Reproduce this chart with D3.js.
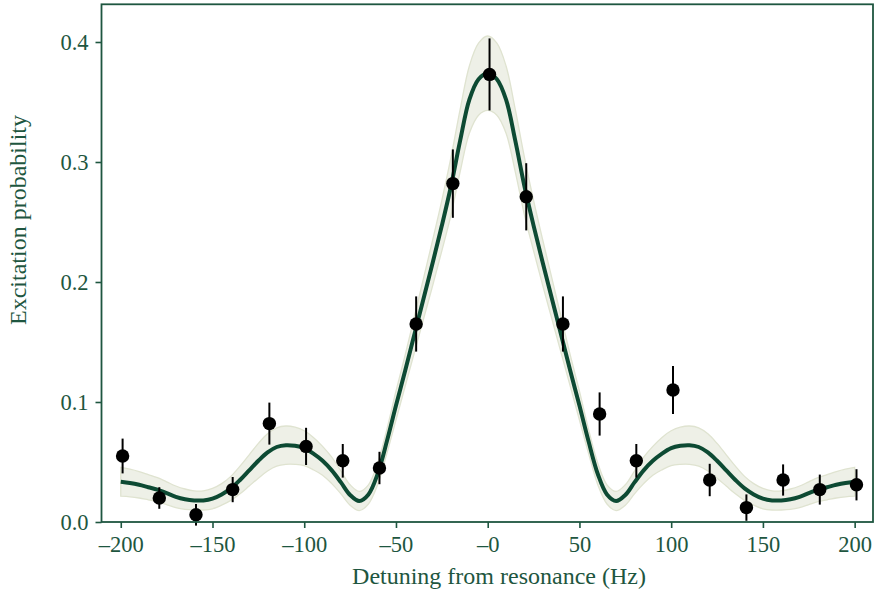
<!DOCTYPE html>
<meta charset="utf-8">
<script src="https://d3js.org/d3.v7.min.js"></script>
<style>
  body { margin: 0; background: #fff; }
  text { font-family: "Liberation Serif", "DejaVu Serif", serif; fill: #1e5640; }
</style>
<div id="my_dataviz"></div>
<script>

// measured points (detuning in Hz, probability, error bar half-length)
var pointDetuning = [-199, -179, -159, -139, -119, -99, -79, -59, -39, -19, 1, 21, 41, 61, 81, 101, 121, 141, 161, 181, 201];
var pointProb = [0.055, 0.020, 0.006, 0.027, 0.082, 0.063, 0.051, 0.045, 0.165, 0.282, 0.373, 0.271, 0.165, 0.090, 0.051, 0.110, 0.035, 0.012, 0.035, 0.027, 0.031];
var pointErr = [0.0145, 0.009, 0.009, 0.0105, 0.0175, 0.0155, 0.014, 0.0135, 0.023, 0.0285, 0.030, 0.028, 0.023, 0.018, 0.014, 0.020, 0.0135, 0.011, 0.013, 0.0125, 0.013];

// fitted curve, every 5 Hz
var fitDetuning = [-200, -195, -190, -185, -180, -175, -170, -165, -160, -155, -150, -145, -140, -135, -130, -125, -120, -115, -110, -105, -100,
  -95, -90, -85, -80, -75, -70, -65, -60, -55, -50, -45, -40, -35, -30, -25, -20, -15, -10, -5, 0,
  5, 10, 15, 20, 25, 30, 35, 40, 45, 50, 55, 60, 65, 70, 75, 80, 85, 90, 95, 100,
  105, 110, 115, 120, 125, 130, 135, 140, 145, 150, 155, 160, 165, 170, 175, 180, 185, 190, 195, 200];
var fitProb = [0.0335, 0.0325, 0.031, 0.029, 0.027, 0.024, 0.021, 0.019, 0.018, 0.018, 0.0195, 0.023, 0.028, 0.035, 0.043, 0.051, 0.058, 0.0625, 0.064, 0.0635, 0.0615,
  0.057, 0.051, 0.043, 0.033, 0.0225, 0.0175, 0.023, 0.040, 0.067, 0.097, 0.126, 0.156, 0.186, 0.216, 0.247, 0.280, 0.318, 0.352, 0.369, 0.374,
  0.369, 0.352, 0.318, 0.280, 0.247, 0.216, 0.186, 0.156, 0.126, 0.097, 0.067, 0.040, 0.023, 0.0175, 0.0225, 0.033, 0.043, 0.051, 0.057, 0.0615,
  0.0635, 0.064, 0.0625, 0.058, 0.051, 0.043, 0.035, 0.028, 0.023, 0.0195, 0.018, 0.018, 0.019, 0.021, 0.024, 0.027, 0.029, 0.031, 0.0325, 0.0335];
// half width of the shaded confidence band
var fitBand = [0.012, 0.0115, 0.011, 0.0105, 0.010, 0.0095, 0.009, 0.0085, 0.008, 0.008, 0.0085, 0.009, 0.010, 0.0115, 0.013, 0.0145, 0.0155, 0.016, 0.016, 0.0155, 0.0145,
  0.0135, 0.012, 0.011, 0.0095, 0.0085, 0.008, 0.008, 0.009, 0.010, 0.012, 0.013, 0.015, 0.017, 0.019, 0.021, 0.024, 0.026, 0.028, 0.030, 0.031,
  0.030, 0.028, 0.026, 0.024, 0.021, 0.019, 0.017, 0.015, 0.013, 0.012, 0.010, 0.009, 0.008, 0.008, 0.0085, 0.0095, 0.011, 0.012, 0.0135, 0.0145,
  0.0155, 0.016, 0.016, 0.0155, 0.0145, 0.013, 0.0115, 0.010, 0.009, 0.0085, 0.008, 0.008, 0.0085, 0.009, 0.0095, 0.010, 0.0105, 0.011, 0.0115, 0.012];

var xTicks = [-200, -150, -100, -50, 0, 50, 100, 150, 200];
var xTickLabels = ["\u2013200", "\u2013150", "\u2013100", "\u201350", "\u20130", "50", "100", "150", "200"];
var yTicks = [0, 0.1, 0.2, 0.3, 0.4];
var yTickLabels = ["0.0", "0.1", "0.2", "0.3", "0.4"];

var axisColor = "#1e5640";

var W = 874, H = 591;
var plotLeft = 101.5, plotRight = 873, plotTop = 4.3, plotBottom = 522;

var svg = d3.select("#my_dataviz")
  .append("svg")
    .attr("width", W)
    .attr("height", H);

var x = d3.scaleLinear()
  .domain([-210.5, 210])
  .range([plotLeft, plotRight]);

var y = d3.scaleLinear()
  .domain([0, (plotBottom - plotTop) / 1200])
  .range([plotBottom, plotTop]);

var fit = fitDetuning.map(function(d, i) {
  return {x: d, y: fitProb[i], lo: fitProb[i] - fitBand[i], hi: fitProb[i] + fitBand[i]};
});

// confidence band
svg.append("path")
  .datum(fit)
  .attr("d", d3.area()
    .curve(d3.curveCatmullRom.alpha(0.5))
    .x(function(d) { return x(d.x); })
    .y0(function(d) { return y(d.lo); })
    .y1(function(d) { return y(d.hi); }))
  .attr("fill", "#eef0e7")
  .attr("stroke", "#dfe3d0")
  .attr("stroke-width", 1.3);

// fit line
svg.append("path")
  .datum(fit)
  .attr("d", d3.line()
    .curve(d3.curveCatmullRom.alpha(0.5))
    .x(function(d) { return x(d.x); })
    .y(function(d) { return y(d.y); }))
  .attr("fill", "none")
  .attr("stroke", "#0d4a33")
  .attr("stroke-width", 4);

// error bars + points
var pts = pointDetuning.map(function(d, i) { return {x: d, y: pointProb[i], e: pointErr[i]}; });

svg.append("g")
  .selectAll("line")
  .data(pts)
  .enter()
  .append("line")
    .attr("x1", function(d) { return x(d.x); })
    .attr("x2", function(d) { return x(d.x); })
    .attr("y1", function(d) { return y(d.y - d.e); })
    .attr("y2", function(d) { return y(d.y + d.e); })
    .attr("stroke", "#000")
    .attr("stroke-width", 2);

svg.append("g")
  .selectAll("circle")
  .data(pts)
  .enter()
  .append("circle")
    .attr("cx", function(d) { return x(d.x); })
    .attr("cy", function(d) { return y(d.y); })
    .attr("r", 6.7)
    .attr("fill", "#000");

// frame
svg.append("rect")
  .attr("x", plotLeft)
  .attr("y", plotTop)
  .attr("width", plotRight - plotLeft)
  .attr("height", plotBottom - plotTop)
  .attr("fill", "none")
  .attr("stroke", axisColor)
  .attr("stroke-width", 1.8);

// x axis
var xAxis = svg.append("g")
  .attr("transform", "translate(0," + plotBottom + ")")
  .call(d3.axisBottom(x)
    .tickValues(xTicks)
    .tickSize(6)
    .tickPadding(8)
    .tickFormat(function(d, i) { return xTickLabels[i]; }));
xAxis.select(".domain").remove();
xAxis.selectAll(".tick line").attr("stroke", axisColor).attr("stroke-width", 1.6);
xAxis.selectAll(".tick text")
  .attr("fill", axisColor)
  .style("font-size", "22.5px")
  .style("font-family", "Liberation Serif");

// y axis
var yAxis = svg.append("g")
  .attr("transform", "translate(" + plotLeft + ",0)")
  .call(d3.axisLeft(y)
    .tickValues(yTicks)
    .tickSize(6)
    .tickPadding(7)
    .tickFormat(function(d, i) { return yTickLabels[i]; }));
yAxis.select(".domain").remove();
yAxis.selectAll(".tick line").attr("stroke", axisColor).attr("stroke-width", 1.6);
yAxis.selectAll(".tick text")
  .attr("fill", axisColor)
  .style("font-size", "22.5px")
  .style("font-family", "Liberation Serif");

// axis labels
svg.append("text")
  .attr("x", 499)
  .attr("y", 584)
  .attr("text-anchor", "middle")
  .style("font-size", "24px")
  .text("Detuning from resonance (Hz)");

svg.append("text")
  .attr("transform", "translate(26,220) rotate(-90)")
  .attr("text-anchor", "middle")
  .style("font-size", "24px")
  .text("Excitation probability");

</script>
